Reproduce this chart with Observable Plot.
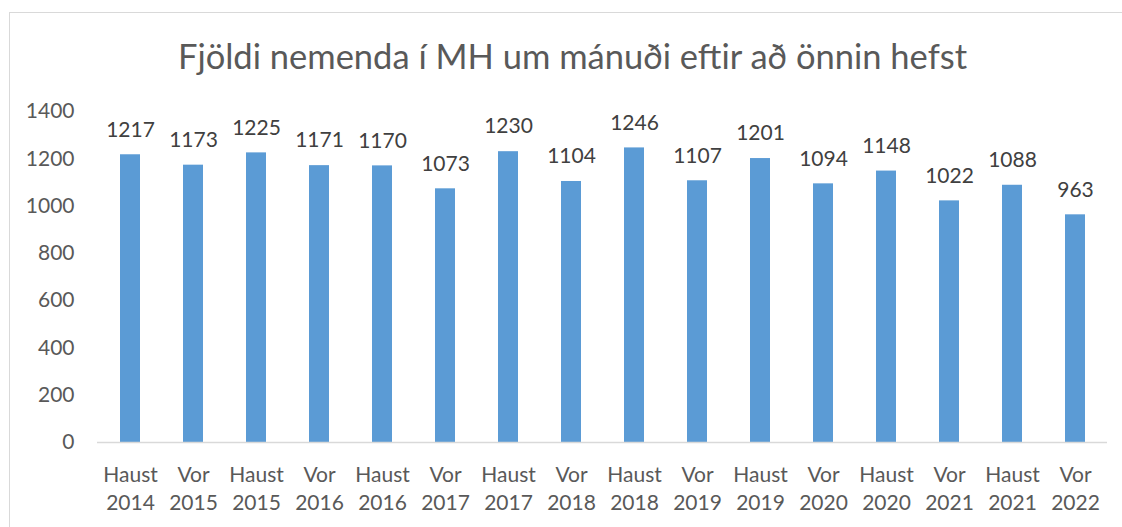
<!DOCTYPE html>
<html>
<head>
<meta charset="utf-8">
<script src="https://cdn.jsdelivr.net/npm/d3@7"></script>
<script src="https://cdn.jsdelivr.net/npm/@observablehq/plot@0.6"></script>
<style>
  html, body { margin: 0; padding: 0; background: #fff; }
  #wrap { position: relative; width: 1122px; height: 527px; overflow: hidden; font-family: Lato, "Open Sans", sans-serif; }
  #frame { position: absolute; left: 9px; top: 12px; width: 1200px; height: 600px; border: 1px solid #d9d9d9; box-sizing: border-box; }
  #title { position: absolute; left: 0; top: 36px; width: 1145px; text-align: center; font-size: 34.5px; color: #595959; line-height: 40px; }
  #chart { position: absolute; left: 0; top: 95px; }
</style>
</head>
<body>
<div id="wrap">
  <div id="frame"></div>
  <div id="title">Fjöldi nemenda í MH um mánuði eftir að önnin hefst</div>
  <div id="chart"></div>
</div>
<script>
const terms = ["Haust", "Vor", "Haust", "Vor", "Haust", "Vor", "Haust", "Vor", "Haust", "Vor", "Haust", "Vor", "Haust", "Vor", "Haust", "Vor"];
const years = ["2014", "2015", "2015", "2016", "2016", "2017", "2017", "2018", "2018", "2019", "2019", "2020", "2020", "2021", "2021", "2022"];
const students = [1217, 1173, 1225, 1171, 1170, 1073, 1230, 1104, 1246, 1107, 1201, 1094, 1148, 1022, 1088, 963];
const yTicks = [0, 200, 400, 600, 800, 1000, 1200, 1400];

const labels = terms.map((t, i) => t + "\n" + years[i]);
const data = labels.map((l, i) => ({label: l, value: students[i]}));

const chart = Plot.plot({
  width: 1122,
  height: 432,
  marginTop: 16,
  marginBottom: 85,
  marginLeft: 97,
  marginRight: 15,
  style: {fontFamily: "Lato, 'Open Sans', sans-serif", fontSize: "21px", color: "#595959", background: "transparent"},
  x: {domain: labels, paddingInner: 0.683, paddingOuter: 0.3415, align: 0.5},
  y: {domain: [0, 1400]},
  marks: [
    Plot.barY(data, {x: "label", y: "value", fill: "#5B9BD5"}),
    Plot.ruleY([0], {stroke: "#d9d9d9", strokeWidth: 1.5}),
    Plot.text(data, {x: "label", y: "value", text: d => String(d.value), dy: -25, fill: "#404040", fontSize: 21, lineAnchor: "middle"}),
    Plot.axisY({ticks: yTicks, tickFormat: d => String(d), tickSize: 0, tickPadding: 23, label: null, fill: "#595959", fontSize: 21}),
    Plot.axisX({tickSize: 0, tickPadding: 19, label: null, fill: "#595959", fontSize: 21, lineHeight: 1.35})
  ]
});
document.getElementById("chart").appendChild(chart);
</script>
</body>
</html>
